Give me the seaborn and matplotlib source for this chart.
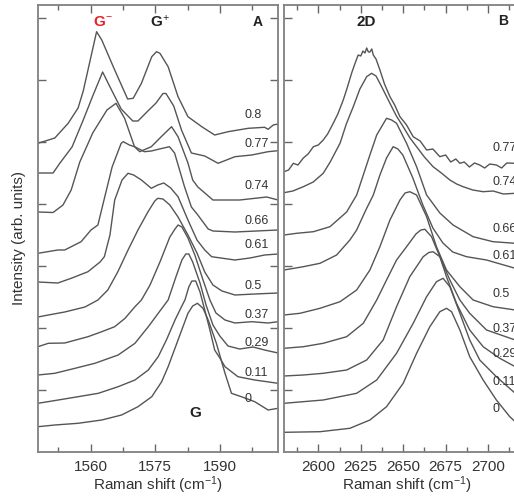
import numpy as np
import pandas as pd
import matplotlib
matplotlib.use("Agg")
import matplotlib.pyplot as plt
import seaborn as sns
from matplotlib.ticker import FixedLocator, NullFormatter

sns.set_style("ticks")
plt.rcParams['font.family'] = ['Liberation Sans', 'DejaVu Sans']
plt.rcParams['mathtext.fontset'] = 'custom'
plt.rcParams['mathtext.rm'] = 'Liberation Sans'
plt.rcParams['mathtext.it'] = 'Liberation Sans:italic'
plt.rcParams['mathtext.bf'] = 'Liberation Sans:bold'

# ---------------- data: panel A (G band) ----------------
labels_A = ["0.8", "0.77", "0.74", "0.66", "0.61", "0.5", "0.37", "0.29", "0.11", "0"]

A_08_x = [1547.8, 1551.7, 1554.8, 1557.1, 1558.3, 1561.4, 1562.6, 1565.6, 1568.6, 1569.9, 1571.8, 1574.2, 1575.3, 1576.1, 1578.0, 1580.3, 1582.6, 1585.8, 1588.8, 1591.9, 1596.6, 1600.4, 1601.2, 1602.4, 1603.5]
A_08_y = [308.7, 314, 328.7, 344, 361, 420.3, 412, 382, 353, 353.7, 368.7, 395.3, 400.3, 398.7, 385.3, 355.3, 335.3, 325.3, 317, 320.3, 323.7, 324.7, 322.7, 327, 328]

A_077_x = [1547.8, 1551.3, 1552.9, 1555.7, 1558.3, 1560.5, 1562.8, 1564.4, 1567.1, 1569.8, 1571.0, 1573.3, 1575.2, 1576.8, 1577.5, 1579.3, 1581.1, 1583.4, 1586.5, 1589.6, 1593.5, 1597.4, 1601.2, 1603.5]
A_077_y = [279, 279, 289, 305, 332, 356, 380, 366, 343, 331, 331, 341, 349, 358.5, 358.5, 346, 322, 299, 296, 288.7, 295.3, 297, 300.3, 301.3]

A_074_x = [1547.8, 1551.3, 1553.6, 1555.5, 1557.5, 1560.5, 1563.8, 1565.9, 1567.9, 1570.2, 1571.4, 1574.1, 1576.4, 1578.8, 1580.3, 1582.6, 1583.7, 1584.9, 1588.4, 1594.6, 1600.9, 1603.5]
A_074_y = [240, 239.5, 247, 262, 290, 319, 342, 348.7, 333.7, 305.3, 300.3, 305.3, 315.3, 325.3, 315.3, 289, 272, 265, 252, 252, 255, 252]

A_066_x = [1547.8, 1552.4, 1554.0, 1557.8, 1560.1, 1561.7, 1563.4, 1565.0, 1567.1, 1567.6, 1569.0, 1570.2, 1572.5, 1574.1, 1576.0, 1578.3, 1579.5, 1581.8, 1583.4, 1584.9, 1587.3, 1588.4, 1593.5, 1603.5]
A_066_y = [198.7, 202, 202, 210.3, 222, 227, 257, 285, 308.7, 310.3, 307, 305.3, 300.3, 301, 303, 305.3, 299, 265.3, 245, 237, 223, 221, 220, 222]

A_061_x = [1547.8, 1552.4, 1555.5, 1559.4, 1562.2, 1563.2, 1564.5, 1565.6, 1567.3, 1568.7, 1570.0, 1571.8, 1574.1, 1575.6, 1577.0, 1578.6, 1580.3, 1582.6, 1584.7, 1586.5, 1588.1, 1593.5, 1597.0, 1600.4, 1603.5]
A_061_y = [170, 169, 173.7, 180.3, 190, 195.3, 217, 252, 272, 278.7, 277, 272, 263.7, 267, 269, 264, 255.3, 232, 212, 202, 195.3, 192, 194, 197, 198]

A_05_x = [1547.8, 1550.2, 1554.0, 1558.7, 1561.7, 1564.0, 1566.3, 1568.7, 1571.0, 1573.3, 1574.9, 1575.6, 1576.8, 1578.4, 1580.3, 1582.6, 1584.7, 1586.5, 1588.4, 1590.5, 1593.5, 1598.1, 1603.5]
A_05_y = [135, 137, 140, 145, 152, 162, 180, 202, 222, 240, 251, 253.7, 253, 247, 235, 217, 199, 180, 167, 161, 157, 158, 159]

A_037_x = [1547.8, 1550.2, 1554.0, 1559.4, 1562.6, 1565.6, 1568.0, 1570.3, 1571.8, 1573.8, 1576.1, 1578.4, 1579.6, 1580.3, 1581.2, 1582.6, 1584.2, 1586.1, 1587.7, 1589.1, 1591.2, 1593.5, 1597.4, 1601.2, 1603.5]
A_037_y = [105.3, 108.7, 109, 115.3, 120.3, 125.3, 133.7, 145.3, 152, 167, 190, 215, 223, 227, 225, 214, 197, 172, 152, 139, 132, 129, 130.3, 129, 130.3]

A_029_x = [1547.8, 1551.7, 1556.4, 1561.0, 1566.4, 1570.3, 1573.4, 1575.7, 1578.0, 1579.8, 1581.2, 1582.1, 1582.8, 1583.7, 1585.4, 1586.8, 1588.4, 1590.0, 1591.9, 1594.6, 1597.7, 1600.4, 1603.5]
A_029_y = [77, 78.7, 83.7, 88.7, 97, 108.7, 125.3, 138.7, 152, 175, 192, 198, 198, 190, 169, 147, 127, 116, 106, 103, 105, 102, 99]

A_011_x = [1547.8, 1552.5, 1557.1, 1561.8, 1566.4, 1570.3, 1573.4, 1575.7, 1577.6, 1579.6, 1581.1, 1581.9, 1582.8, 1583.5, 1584.4, 1585.4, 1586.5, 1587.7, 1588.8, 1590.0, 1591.2, 1594.2, 1598.1, 1603.5]
A_011_y = [48.7, 52, 55.3, 58.7, 65.3, 72, 82, 95.3, 112, 132, 145.3, 152, 165, 171, 171, 160, 142, 122, 102, 94, 85.3, 75.3, 72, 68.7]

A_0_x = [1547.8, 1551.7, 1557.1, 1562.6, 1567.2, 1571.0, 1574.2, 1576.5, 1578.0, 1580.3, 1582.6, 1583.7, 1584.8, 1586.1, 1587.3, 1589.2, 1591.2, 1592.7, 1595.0, 1598.1, 1601.2, 1603.5]
A_0_y = [25.3, 27, 28.7, 32, 37, 45.3, 55.3, 70.3, 85.3, 112, 138.7, 146, 148.7, 143.7, 132, 108.7, 78.7, 58.7, 55.3, 50.3, 42, 43.7]

# ---------------- data: panel B (2D band) ----------------
labels_B = ["0.77", "0.74", "0.66", "0.61", "0.5", "0.37", "0.29", "0.11", "0"]

B_077_x = [2579.8, 2582.5, 2585.3, 2588.0, 2591.2, 2594.0, 2597.1, 2600.0, 2602.9, 2605.5, 2608.8, 2611.5, 2614.7, 2617.0, 2619.6, 2621.5, 2623.5, 2625.0, 2626.3, 2627.5, 2628.5, 2629.5, 2630.4, 2631.5, 2632.4, 2634.0, 2636.3, 2639.0, 2642.2, 2645.0, 2648.1, 2652.0, 2655.9, 2660.0, 2663.8, 2667.5, 2671.6, 2675.0, 2678.0, 2681.0, 2683.4, 2686.0, 2689.0, 2692.0, 2695.1, 2698.0, 2701.0, 2704.9, 2708.0, 2711.0, 2716.0]
B_077_y = [280.3, 282, 288.7, 287, 294, 298, 305.3, 307, 312, 318, 328.7, 338, 352, 364, 378.7, 388, 397, 396, 401, 399, 404, 400, 400, 403, 397, 393, 382, 368, 355.3, 347, 335.3, 327, 315.3, 311, 302, 303, 295.3, 297, 290, 293, 288.7, 290, 285, 289, 287, 284, 288, 287, 284, 289, 288.7]

B_074_x = [2579.8, 2585.0, 2591.2, 2597.0, 2602.9, 2607.0, 2612.8, 2616.5, 2620.6, 2624.5, 2628.5, 2631.4, 2634.0, 2636.3, 2642.2, 2646.0, 2650.0, 2654.0, 2657.9, 2662.5, 2667.6, 2672.5, 2677.5, 2681.5, 2685.3, 2691.0, 2697.1, 2703.0, 2709.0, 2716.0]
B_074_y = [259.3, 261, 265.3, 270, 278.7, 290, 308.7, 328, 345.3, 363, 375.3, 378.7, 376, 368.7, 348.7, 336, 325.3, 314, 305.3, 295, 285.3, 279, 272, 268, 265.3, 262, 260.3, 261, 258, 258.7]

B_066_x = [2579.8, 2587.3, 2597.1, 2606.9, 2616.7, 2622.6, 2626.5, 2630.4, 2634.4, 2640.2, 2643.2, 2646.1, 2652.0, 2657.9, 2663.8, 2671.6, 2679.4, 2691.2, 2702.9, 2716.0]
B_066_y = [217, 218.7, 220.3, 225.3, 240, 257, 277, 297, 317, 333.7, 332, 328.7, 308.7, 285.3, 257, 239, 227, 215.3, 210.3, 208.7]

B_061_x = [2579.8, 2591.2, 2601.0, 2610.8, 2618.6, 2622.6, 2628.0, 2632.4, 2636.3, 2640.2, 2644.1, 2646.9, 2649.8, 2655.7, 2661.6, 2667.5, 2673.4, 2679.2, 2687.3, 2699.1, 2716.0]
B_061_y = [182, 185.3, 188.7, 197, 212, 222, 242, 257, 277, 294, 305.3, 303, 297, 274, 247, 224, 209, 200, 195.3, 192, 183.7]

B_05_x = [2579.8, 2589.2, 2601.0, 2612.8, 2622.6, 2630.4, 2636.3, 2642.2, 2648.1, 2651.1, 2653.9, 2657.9, 2663.8, 2669.6, 2675.5, 2683.4, 2691.2, 2702.9, 2716.0]
B_05_y = [137, 138.7, 143.7, 150.3, 162, 182, 205.3, 232, 252, 259, 260.3, 257, 235.3, 205.3, 182, 165.3, 152, 145.3, 142]

B_037_x = [2579.8, 2591.2, 2602.9, 2616.7, 2626.5, 2634.4, 2640.2, 2646.1, 2652.0, 2657.5, 2660.4, 2662.8, 2666.7, 2671.6, 2677.5, 2683.4, 2689.2, 2699.1, 2716.0]
B_037_y = [103.7, 105.3, 108.7, 115.3, 128.7, 152, 172, 192, 205.3, 218, 222, 222.7, 215.3, 195.3, 172, 152, 138.7, 122, 112]

B_029_x = [2579.8, 2591.2, 2602.9, 2616.7, 2628.5, 2638.2, 2646.1, 2653.9, 2661.8, 2665.1, 2667.6, 2671.6, 2675.5, 2681.4, 2689.2, 2697.1, 2706.9, 2716.0]
B_029_y = [76, 77, 78.7, 82, 92, 112, 145.3, 175.3, 195.3, 199.5, 200.3, 195.3, 175.3, 148.7, 122, 105.3, 93.7, 85.3]

B_011_x = [2579.8, 2602.9, 2622.6, 2634.4, 2646.1, 2655.9, 2663.8, 2669.6, 2673.5, 2677.5, 2683.4, 2689.2, 2695.1, 2704.9, 2716.0]
B_011_y = [48.7, 52, 58.7, 72, 98.7, 128.7, 155.3, 170.3, 173.7, 165.3, 138.7, 112, 92, 75.3, 58.7]

B_0_x = [2579.8, 2601.0, 2618.6, 2630.4, 2640.2, 2650.0, 2657.9, 2665.7, 2671.6, 2675.5, 2678.5, 2683.4, 2689.2, 2697.1, 2704.9, 2712.8, 2716.0]
B_0_y = [19.7, 20.3, 23.7, 32, 45.3, 68.7, 98.7, 125.3, 140.3, 143.7, 140.3, 122, 95.3, 72, 52, 35.3, 30.3]

# label anchor intensities (arb. units)
labelpos_A = [337, 308, 266, 231, 207, 166, 137, 109, 79, 53]
labelpos_B = [304, 270, 223, 196, 158, 123, 98, 70, 43]

curves_A = [(A_08_x, A_08_y), (A_077_x, A_077_y), (A_074_x, A_074_y), (A_066_x, A_066_y),
            (A_061_x, A_061_y), (A_05_x, A_05_y), (A_037_x, A_037_y), (A_029_x, A_029_y),
            (A_011_x, A_011_y), (A_0_x, A_0_y)]
curves_B = [(B_077_x, B_077_y), (B_074_x, B_074_y), (B_066_x, B_066_y), (B_061_x, B_061_y),
            (B_05_x, B_05_y), (B_037_x, B_037_y), (B_029_x, B_029_y), (B_011_x, B_011_y),
            (B_0_x, B_0_y)]

def to_df(curves, labels):
    frames = []
    for (xs, ys), lab in zip(curves, labels):
        frames.append(pd.DataFrame({"shift": xs, "intensity": ys, "doping": lab}))
    return pd.concat(frames, ignore_index=True)

dfA = to_df(curves_A, labels_A)
dfB = to_df(curves_B, labels_B)

W, H = 514, 496
fig = plt.figure(figsize=(W / 100, H / 100), dpi=100)
axA = fig.add_axes([38 / W, 1 - 452 / H, 240 / W, 447 / H])
axB = fig.add_axes([284 / W, 1 - 452 / H, 246.5 / W, 447 / H])

line_col = "#555555"
spine_col = "#808080"
text_col = "#333333"

for ax, df, labels in [(axA, dfA, labels_A), (axB, dfB, labels_B)]:
    for lab in labels:
        sub = df[df["doping"] == lab]
        sns.lineplot(data=sub, x="shift", y="intensity", ax=ax, color=line_col,
                     lw=1.0, sort=False, estimator=None, legend=False)
    ax.set_ylim(0, 447)
    ax.yaxis.set_major_locator(FixedLocator([62, 124, 186, 248, 310, 372, 434]))
    ax.yaxis.set_major_formatter(NullFormatter())
    ax.set_ylabel("")
    for s in ax.spines.values():
        s.set_color(spine_col)
        s.set_linewidth(1.3)
    ax.tick_params(axis="both", which="both", direction="in", top=True, right=True,
                   color="#666666", width=1.0, labelsize=11, labelcolor=text_col, pad=6)
    ax.tick_params(axis="both", which="major", length=6)
    ax.tick_params(axis="both", which="minor", length=3.5)
    ax.set_xlabel(r"Raman shift (cm$^{-1}$)", fontsize=11, color=text_col, labelpad=0)

axA.set_xlim(1547.8, 1603.5)
axA.xaxis.set_major_locator(FixedLocator([1560, 1575, 1590]))
axA.xaxis.set_minor_locator(FixedLocator([1552.5, 1567.5, 1582.5, 1597.5]))

axB.set_xlim(2579.8, 2725)
axB.xaxis.set_major_locator(FixedLocator([2600, 2625, 2650, 2675, 2700]))
axB.xaxis.set_minor_locator(FixedLocator([2587.5, 2612.5, 2637.5, 2662.5, 2687.5, 2712.5]))

for lab, yv in zip(labels_A, labelpos_A):
    axA.text(1595.8, yv, lab, fontsize=9, color=text_col, ha="left", va="center")
for lab, yv in zip(labels_B, labelpos_B):
    axB.text(2702.8, yv, lab, fontsize=9, color=text_col, ha="left", va="center")

axA.text(1562.9, 430, r"G$^{-}$", fontsize=11, fontweight="bold", color="#e8202a", ha="center", va="center")
axA.text(1576.1, 430, r"G$^{+}$", fontsize=11, fontweight="bold", color="#222222", ha="center", va="center")
axA.text(1598.8, 430, "A", fontsize=10, fontweight="bold", color="#222222", ha="center", va="center")
axA.text(1584.4, 39, "G", fontsize=11, fontweight="bold", color="#222222", ha="center", va="center")
axB.text(2628.1, 430, "2D", fontsize=11, fontweight="bold", color="#222222", ha="center", va="center")
axB.text(2708.6, 431, "B", fontsize=10, fontweight="bold", color="#222222", ha="center", va="center")

fig.text(19 / W, 1 - 238 / H, "Intensity (arb. units)", rotation=90, fontsize=11,
         color=text_col, ha="center", va="center")

fig.savefig("out.png", dpi=100)
